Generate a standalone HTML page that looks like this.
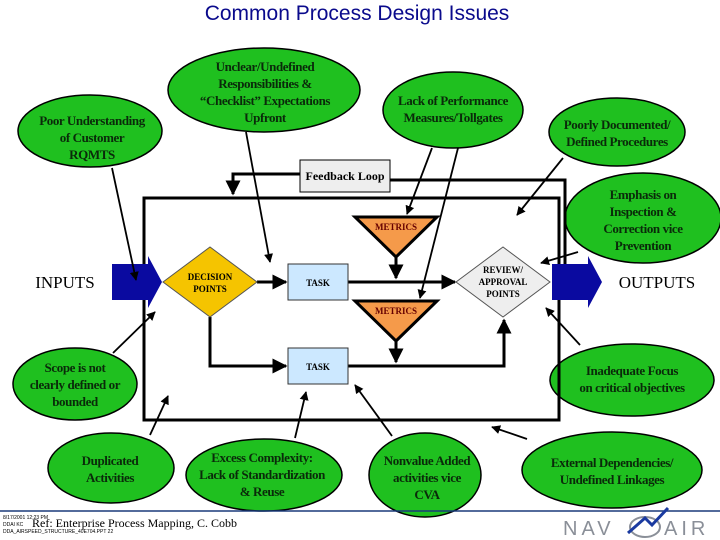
<!DOCTYPE html>
<html><head><style>body{margin:0;background:#fff}svg{display:block}</style></head><body>
<svg width="720" height="540" viewBox="0 0 720 540" xmlns="http://www.w3.org/2000/svg" font-family="Liberation Serif, serif">
<defs><marker id="a" viewBox="0 0 10 10" refX="9" refY="5" markerWidth="5" markerHeight="5" orient="auto"><path d="M0,0L10,5L0,10z" fill="#000"/></marker></defs>
<text x="357" y="20" font-family="Liberation Sans, sans-serif" font-size="21" fill="#0a0a8c" text-anchor="middle">Common Process Design Issues</text>
<g fill="#1fc01f" stroke="#000" stroke-width="1.5">
<ellipse cx="90" cy="131" rx="72" ry="36"/>
<ellipse cx="264" cy="90" rx="96" ry="42"/>
<ellipse cx="453" cy="110" rx="70" ry="38"/>
<ellipse cx="617" cy="132" rx="68" ry="34"/>
<ellipse cx="643" cy="218" rx="78" ry="45"/>
<ellipse cx="75" cy="384" rx="62" ry="36"/>
<ellipse cx="632" cy="380" rx="82" ry="36"/>
<ellipse cx="111" cy="468" rx="63" ry="35"/>
<ellipse cx="264" cy="475" rx="78" ry="36"/>
<ellipse cx="425" cy="475" rx="56" ry="42"/>
<ellipse cx="612" cy="470" rx="90" ry="38"/>
</g>
<g font-size="13" font-weight="bold" letter-spacing="-0.4" text-anchor="middle" fill="#0a2a0a">
<text x="92" y="125">Poor Understanding</text><text x="92" y="142">of Customer</text><text x="92" y="159">RQMTS</text>
<text x="265" y="71">Unclear/Undefined</text><text x="265" y="88">Responsibilities &amp;</text><text x="265" y="105">“Checklist” Expectations</text><text x="265" y="122">Upfront</text>
<text x="453" y="105">Lack of Performance</text><text x="453" y="122">Measures/Tollgates</text>
<text x="617" y="129">Poorly Documented/</text><text x="617" y="146">Defined Procedures</text>
<text x="643" y="199">Emphasis on</text><text x="643" y="216">Inspection &amp;</text><text x="643" y="233">Correction vice</text><text x="643" y="250">Prevention</text>
<text x="75" y="372">Scope is not</text><text x="75" y="389">clearly defined or</text><text x="75" y="406">bounded</text>
<text x="632" y="375">Inadequate Focus</text><text x="632" y="392">on critical objectives</text>
<text x="110" y="465">Duplicated</text><text x="110" y="482">Activities</text>
<text x="262" y="462">Excess Complexity:</text><text x="262" y="479">Lack of Standardization</text><text x="262" y="496">&amp; Reuse</text>
<text x="427" y="465">Nonvalue Added</text><text x="427" y="482">activities vice</text><text x="427" y="499">CVA</text>
<text x="612" y="467">External Dependencies/</text><text x="612" y="484">Undefined Linkages</text>
</g>
<rect x="144" y="198" width="415" height="222" fill="none" stroke="#000" stroke-width="3"/>
<g stroke="#000" stroke-width="3" fill="none">
<path d="M300 174H233V194" marker-end="url(#a)"/>
<path d="M390 180H565V282"/>
<path d="M257 282H286" marker-end="url(#a)"/>
<path d="M348 282H455" marker-end="url(#a)"/>
<path d="M396 257V278" marker-end="url(#a)"/>
<path d="M396 341V362" marker-end="url(#a)"/>
<path d="M210 317V366H286" marker-end="url(#a)"/>
<path d="M348 366H504V320" marker-end="url(#a)"/>
</g>
<rect x="300" y="160" width="90" height="32" fill="#eee" stroke="#000"/>
<text x="345" y="180" font-size="12" font-weight="bold" text-anchor="middle">Feedback Loop</text>
<path d="M112 264H148V256L162 282L148 308V300H112z" fill="#0a0aa0"/>
<path d="M552 264H588V256L602 282L588 308V300H552z" fill="#0a0aa0"/>
<polygon points="163,282 210,247 257,282 210,317" fill="#f5c400" stroke="#555"/>
<polygon points="456,282 503,247 550,282 503,317" fill="#eee" stroke="#555"/>
<rect x="288" y="264" width="60" height="36" fill="#cce8ff" stroke="#333"/>
<rect x="288" y="348" width="60" height="36" fill="#cce8ff" stroke="#333"/>
<polygon points="355,217 437,217 396,257" fill="#f59a4a" stroke="#000" stroke-width="3"/>
<polygon points="355,301 437,301 396,341" fill="#f59a4a" stroke="#000" stroke-width="3"/>
<g font-size="9" font-weight="bold" text-anchor="middle">
<text x="210" y="280">DECISION</text><text x="210" y="292">POINTS</text>
<text x="503" y="273">REVIEW/</text><text x="503" y="285">APPROVAL</text><text x="503" y="297">POINTS</text>
<text x="318" y="286">TASK</text><text x="318" y="370">TASK</text>
<text x="396" y="230" fill="#600">METRICS</text><text x="396" y="314" fill="#600">METRICS</text>
</g>
<text x="65" y="288" font-size="17" text-anchor="middle">INPUTS</text>
<text x="657" y="288" font-size="17" text-anchor="middle">OUTPUTS</text>
<g stroke="#000" stroke-width="1.8" fill="none" marker-end="url(#a)">
<line x1="112" y1="168" x2="136" y2="280"/>
<line x1="246" y1="132" x2="270" y2="262"/>
<line x1="432" y1="148" x2="407" y2="214"/>
<line x1="458" y1="148" x2="420" y2="298"/>
<line x1="563" y1="158" x2="517" y2="215"/>
<line x1="578" y1="252" x2="541" y2="263"/>
<line x1="113" y1="353" x2="155" y2="312"/>
<line x1="150" y1="435" x2="168" y2="396"/>
<line x1="295" y1="438" x2="306" y2="392"/>
<line x1="392" y1="436" x2="355" y2="385"/>
<line x1="580" y1="345" x2="546" y2="308"/>
<line x1="527" y1="439" x2="492" y2="427"/>
</g>
<line x1="0" y1="511" x2="720" y2="511" stroke="#1a3a7a" stroke-width="1.5"/>
<text x="3" y="519" font-size="5" font-family="Liberation Sans, sans-serif">8/17/2001 12:23 PM</text>
<text x="3" y="526" font-size="5" font-family="Liberation Sans, sans-serif">DDAI KC</text>
<text x="3" y="533" font-size="5" font-family="Liberation Sans, sans-serif">DDA_AIRSPEED_STRUCTURE_40E704.PPT 22</text>
<text x="32" y="527" font-size="12">Ref: Enterprise Process Mapping, C. Cobb</text>
<text x="563" y="535" font-size="20" font-family="Liberation Sans, sans-serif" fill="#8a8f98" letter-spacing="4">NAV</text>
<text x="664" y="535" font-size="20" font-family="Liberation Sans, sans-serif" fill="#8a8f98" letter-spacing="4">AIR</text>
<ellipse cx="645" cy="527" rx="15" ry="10" fill="none" stroke="#8a8f98" stroke-width="2"/>
<path d="M628 533L645 518L652 525L668 508" stroke="#1a3aa0" stroke-width="3" fill="none"/>
</svg>
</body></html>
